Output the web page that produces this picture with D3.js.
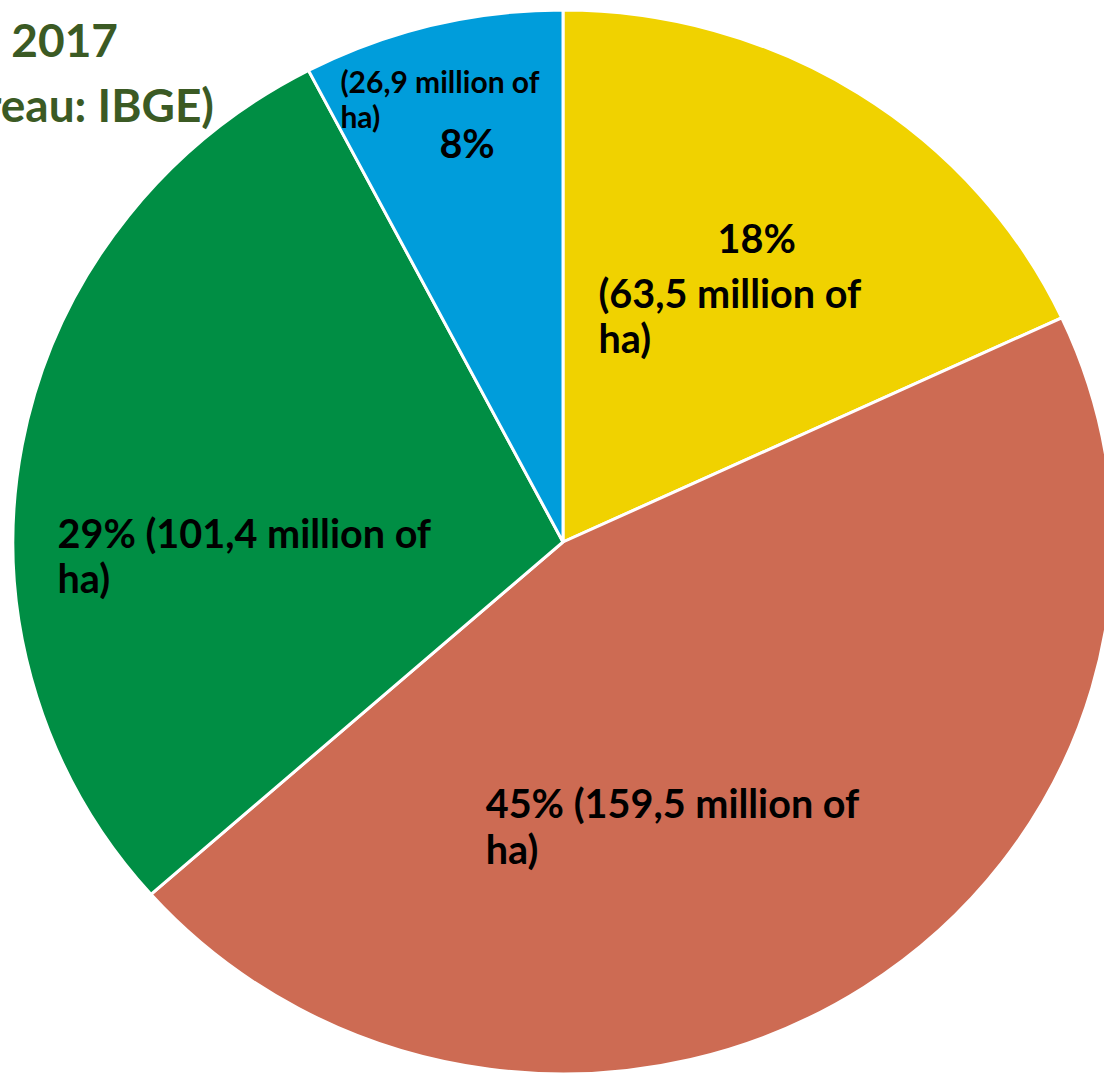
<!DOCTYPE html>
<html>
<head>
<meta charset="utf-8">
<script src="https://cdn.jsdelivr.net/npm/d3@7"></script>
<style>
  body { margin: 0; background: #fff; }
  svg { display: block; }
  text { font-family: Lato, sans-serif; font-weight: 700; }
</style>
</head>
<body>
<div id="chart-container"></div>
<script>
// land use in agricultural establishments, million ha
const categories = ['Crops', 'Pastures', 'Forests', 'Other uses'];
const areas = [63.5, 159.5, 101.4, 26.9];
const shares = ['18%', '45%', '29%', '8%'];
const colors = ['#f0d200', '#cd6b53', '#008e44', '#009ddb'];
const titleLines = ['2017', '(Brazilian Geography and Statistics Bureau: IBGE)'];

const width = 1104, height = 1077;
const cx = 563, cy = 542;
const rx = 550, ry = 532;   // pie is a little stretched sideways

const svg = d3.select('#chart-container')
  .append('svg')
  .attr('width', width)
  .attr('height', height);

const pie = d3.pie().sort(null).value(d => d);
const arcs = pie(areas);

const arc = d3.arc().innerRadius(0).outerRadius(rx);
const labelArc = d3.arc().innerRadius(330).outerRadius(330);

svg.append('g')
  .attr('transform', `translate(${cx},${cy}) scale(1,${ry / rx})`)
  .selectAll('path')
  .data(arcs)
  .enter().append('path')
  .attr('d', arc)
  .attr('fill', (d, i) => colors[i])
  .attr('stroke', '#fff')
  .attr('stroke-width', 3)
  .attr('vector-effect', 'non-scaling-stroke');

// label text built from the data
const fmt = v => v.toFixed(1).replace('.', ',');
const labelText = [
  [shares[0], `(${fmt(areas[0])} million of`, 'ha)'],
  [`${shares[1]} (${fmt(areas[1])} million of`, 'ha)'],
  [`${shares[2]} (${fmt(areas[2])} million of`, 'ha)'],
  [`(${fmt(areas[3])} million of`, 'ha)', shares[3]]
];

// manual label placement, offsets from each slice's centroid
const big = 39.6, small = 30;
const labelLayout = [
  { dx: -142, lines: [{ dx: 119, dy: -20, size: big }, { dy: 35, size: big }, { dy: 80, size: big }] },
  { dx: -258, lines: [{ dy: 9, size: big }, { dy: 55, size: big }] },
  { dx: -181, lines: [{ dy: 64, size: big }, { dy: 109, size: big }] },
  { dx: -144, lines: [{ dy: -139, size: small }, { dy: -104, size: small }, { dx: 99, dy: -74, size: big }] }
];

const labels = svg.append('g');
arcs.forEach((d, i) => {
  const c = labelArc.centroid(d);
  const x = cx + c[0];
  const y = cy + c[1] * ry / rx;
  const layout = labelLayout[i];
  labelText[i].forEach((t, j) => {
    const l = layout.lines[j];
    labels.append('text')
      .attr('x', x + layout.dx + (l.dx || 0))
      .attr('y', y + l.dy)
      .attr('font-size', l.size)
      .attr('fill', '#000')
      .text(t);
  });
});

// title, mostly cut off at the left edge
const title = svg.append('g').attr('fill', '#3b5a24');
title.append('text')
  .attr('x', 118).attr('y', 57)
  .attr('text-anchor', 'end')
  .attr('font-size', 46)
  .text(titleLines[0]);
title.append('text')
  .attr('x', 214).attr('y', 122)
  .attr('text-anchor', 'end')
  .attr('font-size', 46)
  .text(titleLines[1]);
</script>
</body>
</html>
